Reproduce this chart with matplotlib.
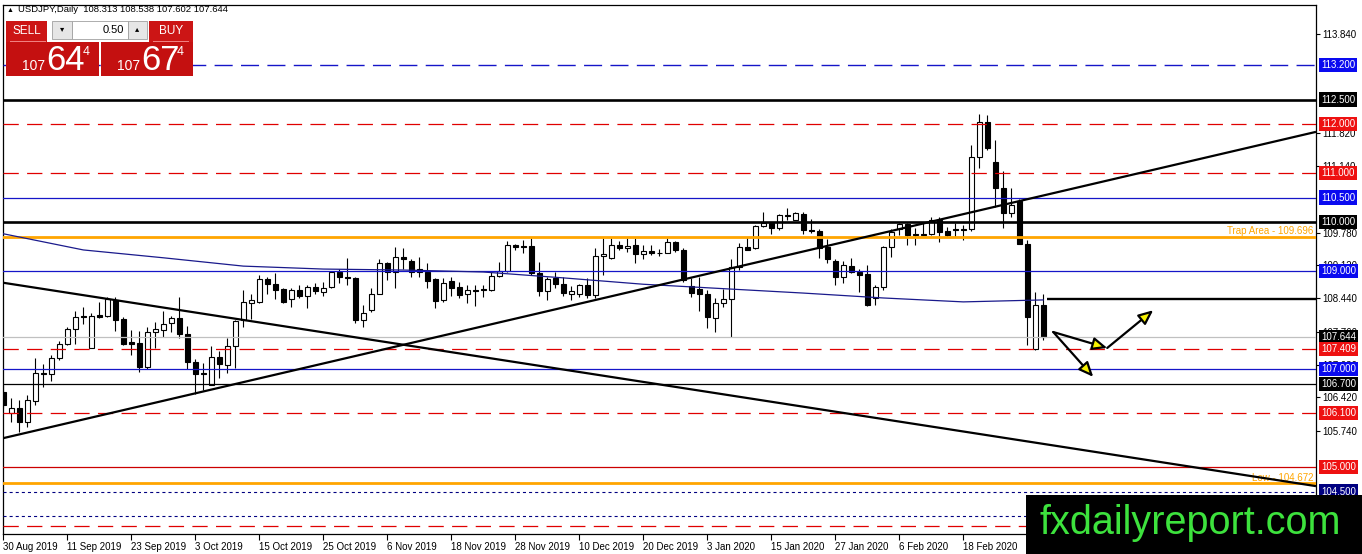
import matplotlib
matplotlib.use("Agg")
import matplotlib.pyplot as plt
import matplotlib.transforms as mtransforms
from matplotlib.patches import Rectangle

plt.rcParams["font.family"] = ["Liberation Sans", "DejaVu Sans"]
plt.rcParams["lines.scale_dashes"] = False

# ---- данные графика USDJPY Daily (чтение с картинки) ----
opens = [106.54, 106.11, 106.20, 105.91, 106.35, 106.91, 106.89, 107.22, 107.52, 107.81,
         108.08, 107.43, 108.10, 108.09, 108.41, 108.02, 107.56, 107.54, 107.05, 107.75,
         107.80, 107.93, 108.05, 107.71, 107.15, 106.92, 106.67, 107.25, 107.08, 107.46,
         108.00, 108.34, 108.37, 108.83, 108.73, 108.63, 108.43, 108.61, 108.48, 108.68,
         108.58, 108.68, 108.99, 108.88, 108.85, 108.01, 108.20, 108.54, 109.16, 108.97,
         109.28, 109.20, 109.05, 108.99, 108.83, 108.41, 108.80, 108.67, 108.53, 108.62,
         108.63, 108.61, 108.90, 109.01, 109.53, 109.51, 109.51, 108.95, 108.60, 108.85,
         108.73, 108.53, 108.53, 108.71, 108.51, 109.31, 109.26, 109.53, 109.46, 109.53,
         109.35, 109.41, 109.37, 109.37, 109.60, 109.43, 108.69, 108.64, 108.54, 108.05,
         108.34, 108.42, 109.09, 109.48, 109.46, 109.92, 109.97, 109.87, 110.14, 110.05,
         110.16, 109.84, 109.82, 109.48, 109.20, 108.87, 109.10, 108.99, 108.94, 108.44,
         108.67, 109.48, 109.85, 109.96, 109.75, 109.75, 109.75, 110.04, 109.82, 109.85,
         109.85, 109.85, 111.33, 112.05, 111.22, 110.69, 110.18, 110.42, 109.55, 107.40,
         108.313]
highs = [106.68, 106.40, 106.37, 106.46, 107.22, 107.10, 107.29, 107.57, 107.85, 108.19,
         108.26, 108.15, 108.37, 108.46, 108.46, 108.07, 107.79, 107.78, 107.86, 107.96,
         108.19, 108.09, 108.46, 107.88, 107.20, 107.13, 107.47, 107.37, 107.63, 108.00,
         108.61, 108.54, 108.92, 108.87, 108.95, 108.65, 108.65, 108.71, 108.71, 108.75,
         108.78, 109.01, 109.05, 109.26, 108.88, 108.31, 108.65, 109.24, 109.19, 109.48,
         109.46, 109.24, 109.28, 109.16, 108.85, 108.85, 108.88, 108.78, 108.71, 108.71,
         108.71, 108.99, 109.19, 109.62, 109.56, 109.63, 109.67, 109.19, 108.88, 108.97,
         108.87, 108.69, 108.73, 108.85, 109.46, 109.67, 109.67, 109.62, 109.67, 109.67,
         109.53, 109.53, 109.44, 109.67, 109.62, 109.46, 108.85, 108.87, 108.61, 108.44,
         108.63, 109.24, 109.58, 109.69, 109.94, 110.21, 110.01, 110.16, 110.28, 110.21,
         110.21, 110.07, 109.85, 109.65, 109.24, 109.21, 109.26, 109.05, 109.12, 108.71,
         109.51, 109.85, 109.99, 109.99, 109.87, 109.97, 110.10, 110.11, 109.89, 109.97,
         109.94, 111.57, 112.20, 112.18, 111.67, 111.05, 110.69, 110.46, 109.63, 108.58,
         108.538]
lows = [106.20, 105.92, 105.72, 105.82, 106.26, 106.63, 106.76, 107.18, 107.49, 107.52,
        107.92, 107.42, 108.05, 108.07, 107.78, 107.49, 107.28, 106.94, 107.01, 107.42,
        107.65, 107.75, 107.63, 107.01, 106.50, 106.57, 106.67, 106.81, 106.92, 107.03,
        107.85, 108.02, 108.35, 108.53, 108.43, 108.35, 108.27, 108.44, 108.24, 108.53,
        108.49, 108.65, 108.75, 108.71, 107.93, 107.86, 108.17, 108.53, 108.82, 108.65,
        109.05, 108.88, 108.88, 108.65, 108.24, 108.37, 108.48, 108.44, 108.34, 108.29,
        108.46, 108.60, 108.87, 108.99, 109.43, 109.37, 108.92, 108.48, 108.41, 108.65,
        108.48, 108.41, 108.46, 108.44, 108.44, 108.92, 109.24, 109.43, 109.39, 109.17,
        109.24, 109.33, 109.31, 109.36, 109.39, 108.78, 108.46, 108.19, 107.83, 107.76,
        108.26, 107.65, 109.02, 109.42, 109.44, 109.89, 109.75, 109.84, 110.05, 110.04,
        109.75, 109.77, 109.26, 109.16, 108.71, 108.75, 108.95, 108.58, 108.29, 108.31,
        108.61, 109.29, 109.74, 109.53, 109.53, 109.73, 109.73, 109.60, 109.70, 109.70,
        109.63, 109.82, 111.10, 111.47, 110.31, 109.87, 110.11, 109.55, 107.49, 107.39,
        107.602]
closes = [106.26, 106.20, 105.91, 106.37, 106.91, 106.89, 107.22, 107.52, 107.81, 108.07,
          108.07, 108.09, 108.07, 108.43, 108.01, 107.51, 107.52, 107.05, 107.75, 107.81,
          107.91, 108.05, 107.71, 107.15, 106.89, 106.90, 107.25, 107.10, 107.46, 107.97,
          108.36, 108.40, 108.83, 108.73, 108.61, 108.37, 108.61, 108.49, 108.68, 108.60,
          108.65, 108.97, 108.87, 108.85, 108.01, 108.15, 108.54, 109.16, 108.97, 109.28,
          109.24, 108.97, 108.99, 108.80, 108.39, 108.76, 108.66, 108.51, 108.61, 108.60,
          108.61, 108.90, 109.01, 109.53, 109.50, 109.50, 108.95, 108.60, 108.83, 108.73,
          108.56, 108.60, 108.71, 108.51, 109.31, 109.35, 109.53, 109.46, 109.52, 109.35,
          109.41, 109.36, 109.36, 109.60, 109.43, 108.82, 108.56, 108.53, 108.07, 108.34,
          108.42, 109.09, 109.48, 109.43, 109.92, 109.97, 109.87, 110.14, 110.13, 110.18,
          109.84, 109.81, 109.46, 109.24, 108.87, 109.12, 108.99, 108.92, 108.31, 108.67,
          109.48, 109.80, 109.96, 109.74, 109.73, 109.74, 110.04, 109.80, 109.73, 109.84,
          109.84, 111.32, 112.05, 111.52, 110.69, 110.18, 110.35, 109.55, 108.07, 108.31,
          107.644]

# скользящая средняя (значения)
ma_bars = [0, 10, 20, 30, 40, 50, 60, 70, 80, 90, 100, 110, 120, 125, 130]
ma_values = [109.76, 109.43, 109.27, 109.10, 109.04, 109.02, 108.98, 108.86, 108.73,
             108.64, 108.55, 108.45, 108.37, 108.39, 108.41]

date_bars = [0, 8, 16, 24, 32, 40, 48, 56, 64, 72, 80, 88, 96, 104, 112, 120]
date_labels = ["30 Aug 2019", "11 Sep 2019", "23 Sep 2019", "3 Oct 2019", "15 Oct 2019",
               "25 Oct 2019", "6 Nov 2019", "18 Nov 2019", "28 Nov 2019", "10 Dec 2019",
               "20 Dec 2019", "3 Jan 2020", "15 Jan 2020", "27 Jan 2020", "6 Feb 2020",
               "18 Feb 2020"]

# видимые (целиком или частично) метки шкалы цен
price_ticks = [113.84, 111.82, 111.14, 109.78, 109.12, 108.44, 107.76, 107.08,
               106.42, 105.74]

# горизонтальные уровни
levels = [113.2, 112.5, 112.0, 111.0, 110.5, 110.0, 109.696, 109.0, 107.644, 107.409,
          107.0, 106.7, 106.1, 105.0, 104.672, 104.5, 104.0, 103.8]
label_prices = [113.2, 112.5, 112.0, 111.0, 110.5, 110.0, 109.0, 107.644, 107.409,
                107.0, 106.7, 106.1, 105.0, 104.5]

# трендовые линии (бар, цена)
rising_line = [(0, 105.59), (164.1, 111.84)]
falling_line = [(0, 108.76), (164.1, 104.61)]
resist_segment = [(130.5, 108.43), (164.1, 108.43)]

# стрелки сценария
arrow_start = (131.25, 107.755)
arrow_mid = (138.0, 107.43)
arrow_up = (143.75, 108.20)
arrow_down = (136.25, 106.84)

W, H = 1362, 554
BLUE = "#1515c8"
BLUE_BOX = "#0a0af0"
RED = "#e00000"
ORANGE = "#ffa500"
NAVY = "#000080"

fig = plt.figure(figsize=(W / 100, H / 100), dpi=100)
ax = fig.add_axes([3 / W, 1 - 534 / H, 1313 / W, 529 / H])
ax.set_xlim(-0.05, 164.1)
ax.set_ylim(103.633, 114.429)

# свечи
n = len(opens)
for i in range(n):
    ax.vlines(i, lows[i], highs[i], color="black", lw=0.8, zorder=2)
bottoms = [min(o, c) for o, c in zip(opens, closes)]
heights = [max(abs(c - o), 0.015) for o, c in zip(opens, closes)]
colors = ["white" if c >= o else "black" for o, c in zip(opens, closes)]
ax.bar(range(n), heights, bottom=bottoms, width=0.62, color=colors,
       edgecolor="black", linewidth=0.8, zorder=2.5)

# уровни
level_kinds = ["blue_dash", "black_thick", "red_dash", "red_dash", "blue", "black_thick",
               "orange", "blue", "gray", "red_dash", "blue", "black", "red_dash", "red",
               "orange", "navy_dot", "navy_dot", "red_dash"]
styles = {
    "blue_dash": dict(color=BLUE, lw=1.0, dashes=(13, 6)),
    "black_thick": dict(color="black", lw=1.9),
    "black": dict(color="black", lw=0.9),
    "red_dash": dict(color=RED, lw=0.9, dashes=(11, 6)),
    "red": dict(color="#cc0000", lw=0.9),
    "blue": dict(color=BLUE, lw=0.9),
    "orange": dict(color=ORANGE, lw=2.0),
    "gray": dict(color="#c0c0c0", lw=0.9),
    "navy_dot": dict(color=NAVY, lw=0.8, dashes=(2.2, 2.2)),
}
for lv, kind in zip(levels, level_kinds):
    ax.axhline(lv, zorder=3, **styles[kind])

ax.plot(ma_bars, ma_values, color="#1a1a8c", lw=0.9, zorder=3)

for seg, lw in [(rising_line, 1.6), (falling_line, 1.6), (resist_segment, 1.7)]:
    ax.plot([p[0] for p in seg], [p[1] for p in seg], color="black", lw=lw, zorder=4,
            solid_capstyle="butt")

ax.text(163.8, 109.82, "Trap Area - 109.696", color=ORANGE, fontsize=7,
        ha="right", va="center", zorder=3.5)
ax.text(163.8, 104.78, "Low - 104.672", color=ORANGE, fontsize=7,
        ha="right", va="center", zorder=3.5)

# стрелки
astyle = dict(arrowstyle="-|>,head_length=0.8,head_width=0.35", fc="#f5f000", ec="black",
              lw=1.6, mutation_scale=11, shrinkA=0, shrinkB=0)
for a, b in [(arrow_start, arrow_mid), (arrow_mid, arrow_up), (arrow_start, arrow_down)]:
    ax.annotate("", xy=b, xytext=a, arrowprops=astyle, zorder=5)

# оси
for sp in ax.spines.values():
    sp.set_linewidth(0.9)
ax.yaxis.tick_right()
ax.set_yticks(price_ticks)
ax.set_yticklabels([f"{v:.3f}" for v in price_ticks])
ax.tick_params(axis="y", direction="out", length=3, pad=1.5, labelsize=7, width=0.8)
ax.set_xticks(date_bars)
ax.set_xticklabels(date_labels)
ax.tick_params(axis="x", direction="out", length=4, pad=1.5, labelsize=7, width=0.8)
for lab in ax.get_xticklabels():
    lab.set_ha("left")

box_colors = [BLUE_BOX, "black", "#ee1111", "#ee1111", BLUE_BOX, "black", BLUE_BOX,
              "black", "#ee1111", BLUE_BOX, "black", "#ee1111", "#ee1111", NAVY]
tr = mtransforms.blended_transform_factory(fig.transFigure, ax.transData)
for pr, col in zip(label_prices, box_colors):
    fig.text(1321 / W, pr, f"{pr:.3f}", transform=tr, color="white", fontsize=7,
             ha="left", va="center", zorder=10,
             bbox=dict(boxstyle="square,pad=0.22", fc=col, ec="none"))


# панель торговли в левом верхнем углу
def rect(x, y, w, h, fc, ec="none", lw=0, z=8):
    fig.add_artist(Rectangle((x / W, 1 - (y + h) / H), w / W, h / H,
                             transform=fig.transFigure, fc=fc, ec=ec, lw=lw, zorder=z))


def ftext(x, y, s, z=9, **kw):
    fig.text(x / W, 1 - y / H, s, zorder=z, **kw)


ftext(7, 10, "\u25b2", fontsize=5, va="center", ha="left")
ftext(18, 10, "USDJPY,Daily  108.313 108.538 107.602 107.644", fontsize=6.8,
      va="center", ha="left")

rect(6, 21, 41, 21, "#cc1515")
rect(149, 21, 44, 21, "#cc1515")
rect(52, 21, 20, 18, "#e6e6e6", ec="#a0a0a0", lw=0.6)
rect(72, 21, 56, 18, "white", ec="#a0a0a0", lw=0.6)
rect(128, 21, 19, 18, "#e6e6e6", ec="#a0a0a0", lw=0.6)
rect(6, 42, 93, 34, "#c41010")
rect(101, 42, 92, 34, "#c41010")
rect(10, 41, 36, 0.8, "#f08080", z=8.5)
rect(153, 41, 36, 0.8, "#f08080", z=8.5)

ftext(26.5, 31, "SELL", color="white", fontsize=8.5, ha="center", va="center")
ftext(171, 31, "BUY", color="white", fontsize=8.5, ha="center", va="center")
ftext(62, 30, "\u25be", fontsize=6, ha="center", va="center")
ftext(137.5, 30, "\u25b4", fontsize=6, ha="center", va="center")
ftext(124, 30, "0.50", fontsize=8, ha="right", va="center")
ftext(22, 70, "107", color="white", fontsize=10, ha="left", va="baseline")
ftext(46, 70, "64", color="white", fontsize=25, ha="left", va="baseline")
ftext(83, 55, "4", color="white", fontsize=9, ha="left", va="baseline")
ftext(117, 70, "107", color="white", fontsize=10, ha="left", va="baseline")
ftext(141, 70, "67", color="white", fontsize=25, ha="left", va="baseline")
ftext(177, 55, "4", color="white", fontsize=9, ha="left", va="baseline")

# водяной знак
rect(1026, 495, 336, 59, "black", z=20)
ftext(1040, 534, "fxdailyreport.com", z=21, color="#3de23d", fontsize=28.5,
      ha="left", va="baseline")

fig.savefig("out.png", dpi=100)
